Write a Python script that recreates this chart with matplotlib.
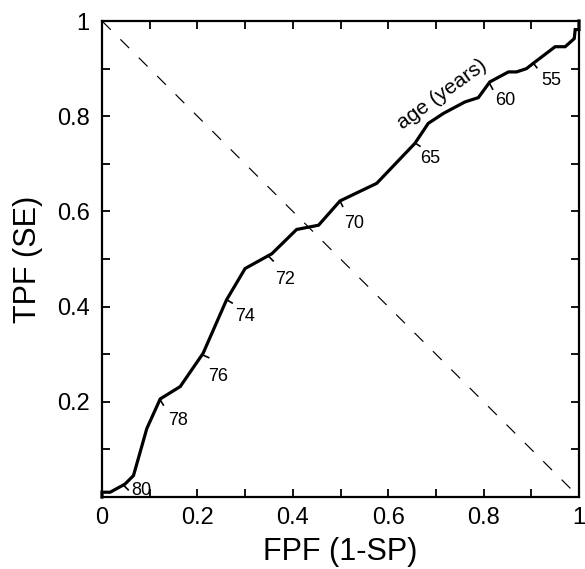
import numpy as np
import matplotlib
matplotlib.use("Agg")
import matplotlib.pyplot as plt
from matplotlib.ticker import MultipleLocator, FixedLocator

plt.rcParams['font.family'] = ['Liberation Sans', 'DejaVu Sans']

# ROC curve
fpf = [0, 0, 0.017, 0.048, 0.066, 0.094, 0.122, 0.164, 0.212, 0.261, 0.30,
       0.356, 0.408, 0.454, 0.499, 0.576, 0.656, 0.684, 0.716, 0.761, 0.789,
       0.813, 0.852, 0.869, 0.89, 0.904, 0.95, 0.971, 0.99, 0.992, 1.0, 1.0]
tpf = [0, 0.010, 0.010, 0.027, 0.045, 0.144, 0.206, 0.232, 0.302, 0.414, 0.48,
       0.511, 0.562, 0.571, 0.622, 0.659, 0.743, 0.785, 0.806, 0.83, 0.839,
       0.872, 0.893, 0.893, 0.90, 0.911, 0.946, 0.946, 0.963, 0.982, 0.982, 1.0]

# age thresholds marked on the curve
ages = ['80', '78', '76', '74', '72', '70', '65', '60', '55']
age_x = [0.046, 0.122, 0.212, 0.262, 0.350, 0.499, 0.656, 0.813, 0.904]
age_y = [0.024, 0.204, 0.298, 0.414, 0.505, 0.622, 0.744, 0.868, 0.912]
lab_x = [0.082, 0.159, 0.243, 0.300, 0.384, 0.528, 0.688, 0.845, 0.941]
lab_y = [0.013, 0.160, 0.254, 0.380, 0.456, 0.574, 0.712, 0.834, 0.876]

fig = plt.figure(figsize=(5.85, 5.69), dpi=100)
ax = fig.add_axes([102 / 585, 1 - 497 / 569, 477 / 585, 476 / 569])
ax.set_xlim(0, 1)
ax.set_ylim(0, 1)

ax.plot([0, 1], [1, 0], color='k', lw=0.85, dashes=(10.5, 11.5))
ax.plot(fpf, tpf, color='k', lw=2.3, solid_joinstyle='miter', clip_on=False)

# small ticks across the curve, pointing to the lower right
pts = ax.transData.transform(np.column_stack([fpf, tpf]))
inv = ax.transData.inverted()
for x, y in zip(age_x, age_y):
    p = ax.transData.transform((x, y))
    d2 = np.sum((pts - p) ** 2, axis=1)
    i = int(np.argmin(d2))
    j = i + 1 if i + 1 < len(pts) else i - 1
    d = pts[j] - pts[i]
    if j < i:
        d = -d
    d = d / np.hypot(*d)
    n = np.array([d[1], -d[0]])
    q = inv.transform(p + 6 * n)
    ax.plot([x, q[0]], [y, q[1]], color='k', lw=1.2)

for s, x, y in zip(ages, lab_x, lab_y):
    ax.text(x, y, s, fontsize=13, ha='center', va='center')

ax.text(0.713, 0.845, 'age (years)', fontsize=15, rotation=36,
        ha='center', va='center', rotation_mode='anchor')

ax.xaxis.set_major_locator(FixedLocator([0, 0.2, 0.4, 0.6, 0.8, 1]))
ax.yaxis.set_major_locator(FixedLocator([0.2, 0.4, 0.6, 0.8, 1]))
ax.xaxis.set_minor_locator(MultipleLocator(0.1))
ax.yaxis.set_minor_locator(MultipleLocator(0.1))
ax.set_xticklabels(['0', '0.2', '0.4', '0.6', '0.8', '1'])
ax.set_yticklabels(['0.2', '0.4', '0.6', '0.8', '1'])
ax.tick_params(which='both', direction='in', top=True, right=True,
               length=6, width=1.3, labelsize=17)
ax.tick_params(axis='x', pad=7)
ax.tick_params(axis='y', pad=9)
for sp in ax.spines.values():
    sp.set_linewidth(1.6)

ax.set_xlabel('FPF (1-SP)', fontsize=22, labelpad=6)
ax.set_ylabel('TPF (SE)', fontsize=22, labelpad=10)

fig.savefig('out.png', dpi=100)
